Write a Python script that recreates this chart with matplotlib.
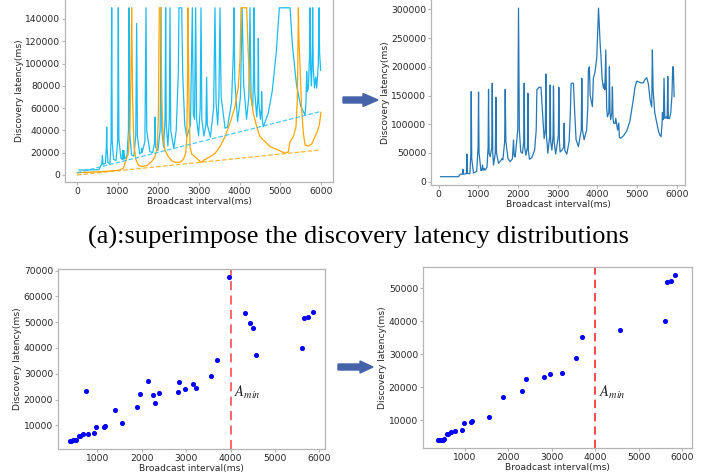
import matplotlib
matplotlib.use("Agg")
import matplotlib.pyplot as plt
from matplotlib.patches import FancyArrow

# ---- top-left: two latency curves (clipped at 150000) ----
cyan_x = [50, 300, 540, 580, 610, 625, 640, 700, 722, 730, 738, 760, 810, 838, 853, 866,
          900, 960, 1000, 1016, 1030, 1080, 1110, 1123, 1135, 1156, 1170, 1230, 1265, 1279,
          1293, 1340, 1400, 1445, 1467, 1485, 1540, 1580, 1590, 1600, 1670, 1697, 1715, 1790,
          1860, 1905, 1918, 1935, 1990, 2045, 2066, 2085, 2130, 2165, 2180, 2195, 2235, 2270,
          2287, 2305, 2380, 2440, 2490, 2508, 2574, 2600, 2650, 2700, 2790, 2836, 2860, 2890,
          2918, 2940, 2990, 3030, 3049, 3070, 3120, 3170, 3188, 3205, 3280, 3360, 3393, 3420,
          3460, 3490, 3516, 3545, 3640, 3700, 3800, 3845, 3860, 3880, 3950, 4020, 4060, 4100,
          4170, 4225, 4254, 4280, 4320, 4340, 4352, 4370, 4420, 4448, 4459, 4470, 4510, 4535,
          4541, 4555, 4582, 4700, 4800, 4900, 4975, 5238, 5300, 5400, 5500, 5607, 5630, 5648,
          5665, 5690, 5720, 5730, 5745, 5765, 5785, 5795, 5810, 5840, 5870, 5895, 5935, 5951,
          5965, 5990]
cyan_y = [4500, 4500, 4800, 8000, 9500, 17500, 9500, 10500, 25000, 43000, 25000, 11000,
          10500, 30000, 150000, 30000, 14000, 13000, 30000, 150000, 32000, 15000, 14000,
          22000, 14000, 22000, 14500, 17000, 40000, 150000, 40000, 18000, 17000, 35000,
          136000, 35000, 19000, 20000, 24000, 20000, 30000, 150000, 40000, 21000, 20000,
          28000, 52000, 25000, 22000, 40000, 150000, 40000, 25000, 50000, 150000, 45000,
          26000, 50000, 150000, 40000, 24000, 40000, 90000, 150000, 150000, 90000, 45000,
          34000, 45000, 150000, 55000, 50000, 150000, 50000, 35000, 60000, 150000, 50000,
          35000, 45000, 87700, 45000, 34000, 60000, 150000, 65000, 45000, 70000, 150000,
          70000, 42000, 43000, 65000, 110000, 150000, 85000, 48000, 70000, 150000, 80000,
          50000, 70000, 150000, 70000, 60000, 90000, 150000, 75000, 52000, 70000, 122600,
          65000, 50000, 60000, 74700, 50000, 43300, 55000, 75000, 110000, 150000, 150000,
          115000, 80000, 62000, 53800, 65000, 92700, 75000, 78000, 110000, 150000, 95000,
          80000, 110000, 150000, 95000, 78000, 88000, 78000, 100000, 150000, 110000, 94000]

orange_x = [0, 300, 600, 900, 1050, 1140, 1180, 1262, 1303, 1330, 1344, 1355, 1369, 1402,
            1451, 1508, 1590, 1713, 1836, 1918, 1975, 2000, 2012, 2024, 2066, 2075, 2082,
            2123, 2164, 2246, 2328, 2410, 2533, 2615, 2672, 2697, 2713, 2730, 2745, 2754,
            2779, 2820, 2902, 2984, 3049, 3148, 3270, 3393, 3516, 3639, 3762, 3885, 3967,
            4008, 4033, 4172, 4210, 4254, 4336, 4418, 4500, 4623, 4746, 4910, 5033, 5115,
            5197, 5238, 5320, 5385, 5418, 5435, 5443, 5460, 5484, 5525, 5566, 5607, 5689,
            5771, 5853, 5910, 5959, 6000]
orange_y = [2000, 2500, 3000, 3800, 4500, 6000, 10500, 19400, 43000, 100000, 150000, 110000,
            67300, 25400, 13500, 9000, 7500, 8400, 12000, 16400, 25400, 52300, 100000,
            150000, 150000, 100000, 67300, 31400, 22400, 16400, 12800, 11400, 11400, 13900,
            19400, 31400, 67300, 150000, 100000, 67300, 25400, 18800, 16400, 13500, 11400,
            13900, 16400, 19400, 25400, 34400, 46400, 61300, 79200, 103000, 150000, 150000,
            110000, 76300, 55300, 43300, 34400, 29900, 25400, 23000, 20900, 19400, 20900,
            29900, 34400, 43300, 67300, 120000, 150000, 120000, 97200, 58300, 37400, 26900,
            26000, 27800, 34400, 38900, 44900, 56200]

cyan_trend_x = [0, 6000]
cyan_trend_y = [2000, 57000]
orange_trend_x = [0, 6000]
orange_trend_y = [0, 22500]

# ---- top-right: superimposed distribution ----
sum_x = [50, 500, 546, 600, 614, 630, 700, 714, 725, 790, 812, 823, 835, 880, 960, 995,
         1007, 1020, 1067, 1090, 1108, 1125, 1150, 1170, 1220, 1248, 1259, 1272, 1301, 1340,
         1352, 1365, 1385, 1430, 1444, 1460, 1510, 1560, 1595, 1620, 1665, 1679, 1695, 1750,
         1805, 1860, 1888, 1905, 1930, 1995, 2014, 2035, 2070, 2114, 2145, 2157, 2170, 2200,
         2240, 2250, 2262, 2290, 2350, 2420, 2460, 2477, 2530, 2580, 2610, 2660, 2690, 2703,
         2718, 2754, 2800, 2812, 2825, 2855, 2885, 2895, 2910, 2950, 3018, 3030, 3045, 3063,
         3110, 3150, 3164, 3180, 3230, 3290, 3320, 3340, 3398, 3430, 3465, 3523, 3595, 3609,
         3625, 3667, 3730, 3760, 3775, 3800, 3820, 3876, 3900, 3940, 3985, 4030, 4070, 4090,
         4120, 4153, 4175, 4190, 4213, 4235, 4254, 4290, 4304, 4320, 4337, 4365, 4380, 4395,
         4414, 4447, 4464, 4489, 4510, 4540, 4556, 4591, 4660, 4740, 4820, 4900, 4950, 4992,
         5100, 5160, 5200, 5245, 5287, 5330, 5370, 5387, 5405, 5447, 5497, 5540, 5575, 5606,
         5630, 5640, 5665, 5681, 5700, 5731, 5760, 5775, 5790, 5820, 5850, 5880, 5900, 5915,
         5935]
sum_y = [8700, 8700, 13000, 13000, 21600, 13000, 14000, 48200, 14600, 14000, 50000, 156700,
         40000, 15000, 18000, 60000, 156000, 50000, 19200, 20000, 29000, 20000, 23000, 20000,
         25000, 60000, 160800, 50000, 43500, 60000, 171300, 50000, 29000, 50000, 146900,
         50000, 32000, 36000, 40000, 38000, 70000, 160800, 70000, 40000, 34800, 40000, 72600,
         45000, 43000, 90000, 302000, 90000, 52000, 49400, 70000, 171300, 60000, 46000,
         60000, 153900, 55000, 39000, 42000, 55000, 90000, 160000, 164300, 164300, 130000,
         75000, 90000, 187500, 80000, 49400, 80000, 168400, 70000, 55000, 80000, 166600,
         70000, 48000, 80000, 164300, 70000, 51600, 55000, 60000, 101700, 55000, 48000,
         70000, 120000, 171300, 171300, 120000, 73000, 61000, 90000, 180000, 90000, 73000,
         90000, 130000, 195000, 200000, 150000, 130600, 180000, 190000, 215000, 302000,
         241000, 220600, 180000, 162600, 170000, 160000, 229300, 130000, 113000, 120000,
         200000, 120000, 108000, 120000, 165000, 110000, 102000, 101000, 110000, 100000,
         90000, 102000, 77300, 75500, 80000, 88000, 105000, 140000, 165000, 175000, 172000,
         172000, 178000, 181000, 170000, 142000, 130000, 229300, 160000, 120000, 103000,
         88000, 81300, 78400, 100000, 120000, 108000, 180000, 110000, 113000, 110000,
         183000, 110000, 110000, 120000, 150000, 200000, 200000, 148000]

# ---- bottom: minimum latency points ----
all_x = [375, 413, 450, 488, 526, 585, 616, 675, 743, 781, 932, 977, 1142, 1171, 1406, 1548,
         1887, 1955, 2135, 2263, 2308, 2399, 2819, 2841, 2970, 3165, 3233, 3571, 3699, 3955,
         4323, 4436, 4511, 4579, 5602, 5662, 5744, 5850]
all_y = [4080, 4080, 4150, 4150, 4300, 5740, 6010, 6520, 23430, 6650, 7040, 9230, 9360, 9750,
         15960, 11050, 17120, 22270, 27030, 21880, 18790, 22390, 23040, 26920, 24060, 25870,
         24320, 28960, 35160, 67660, 53470, 49860, 47800, 37220, 39930, 51800, 52180, 53990]

kept_x = [375, 413, 450, 488, 526, 585, 616, 675, 781, 932, 977, 1142, 1171, 1548, 1887,
          2308, 2399, 2819, 2970, 3233, 3571, 3699, 4579, 5602, 5662, 5744, 5850]
kept_y = [4080, 4080, 4150, 4150, 4300, 5740, 6010, 6520, 6650, 7040, 9230, 9360, 9750,
          11050, 17120, 18790, 22390, 23040, 24060, 24320, 28960, 35160, 37220, 39930, 51800,
          52180, 53990]

a_min = 4000

W, H = 718, 476
spine_col = "#b4b4b4"
fs = 6.6


def px_axes(fig, left, top, right, bottom):
    return fig.add_axes([left / W, 1 - bottom / H, (right - left) / W, (bottom - top) / H])


def style(ax, hide_top=False):
    for s in ax.spines.values():
        s.set_color(spine_col)
        s.set_linewidth(0.9)
    if hide_top:
        ax.spines["top"].set_visible(False)
    ax.tick_params(colors=spine_col, labelcolor="#262626", labelsize=fs, length=2,
                   width=0.8, pad=1.5)
    ax.set_xlabel("Broadcast interval(ms)", fontsize=fs, color="#262626", labelpad=0.5)
    ax.set_ylabel("Discovery latency(ms)", fontsize=fs, color="#262626", labelpad=1)


fig = plt.figure(figsize=(W / 100, H / 100), dpi=100)
plt.rcParams["mathtext.fontset"] = "stix"

# top-left
ax1 = px_axes(fig, 65, 0, 333, 182)
ax1.plot(cyan_x, cyan_y, color="#1cbcf2", lw=0.9)
ax1.plot(orange_x, orange_y, color="#ffa500", lw=0.9)
ax1.plot(cyan_trend_x, cyan_trend_y, color="#1cbcf2", lw=0.9, ls="--", alpha=0.8)
ax1.plot(orange_trend_x, orange_trend_y, color="#ffa500", lw=0.9, ls="--", alpha=0.8)
ax1.set_xlim(-295, 6295)
ax1.set_ylim(-6300, 157000)
ax1.set_xticks([0, 1000, 2000, 3000, 4000, 5000, 6000])
ax1.set_yticks([0, 20000, 40000, 60000, 80000, 100000, 120000, 140000])
style(ax1, hide_top=True)

# top-right
ax2 = px_axes(fig, 431, 0, 685, 185)
ax2.plot(sum_x, sum_y, color="#2677b5", lw=0.9)
ax2.set_xlim(-191, 6209)
ax2.set_ylim(-5750, 316200)
ax2.set_xticks([0, 1000, 2000, 3000, 4000, 5000, 6000])
ax2.set_yticks([0, 50000, 100000, 150000, 200000, 250000, 300000])
style(ax2, hide_top=True)

# bottom-left
ax3 = px_axes(fig, 58, 269, 325, 449)
ax3.scatter(all_x, all_y, s=7, color="#0000ff", zorder=3)
ax3.axvline(a_min, color="#ff5a5a", ls=(0, (5, 3)), lw=1.3)
ax3.text(4080, 21000, "$A_{min}$", fontsize=10.5, color="#222222")
ax3.set_xlim(113, 6128)
ax3.set_ylim(840, 70630)
ax3.set_xticks([1000, 2000, 3000, 4000, 5000, 6000])
ax3.set_yticks([10000, 20000, 30000, 40000, 50000, 60000, 70000])
style(ax3)

# bottom-right
ax4 = px_axes(fig, 423, 267, 692, 448)
ax4.scatter(kept_x, kept_y, s=7, color="#0000ff", zorder=3)
ax4.axvline(a_min, color="#ff2a2a", ls=(0, (5, 3)), lw=1.2)
ax4.text(4080, 17000, "$A_{min}$", fontsize=10.5, color="#222222")
ax4.set_xlim(38, 6231)
ax4.set_ylim(1640, 56350)
ax4.set_xticks([1000, 2000, 3000, 4000, 5000, 6000])
ax4.set_yticks([10000, 20000, 30000, 40000, 50000])
style(ax4)

# arrows between panels
arrow_col = "#4463a8"
fig.add_artist(FancyArrow(3.43, (H - 100) / 100, 0.35, 0, width=0.06, head_width=0.13,
                          head_length=0.15, length_includes_head=True, color=arrow_col,
                          transform=fig.dpi_scale_trans))
fig.add_artist(FancyArrow(3.38, (H - 367) / 100, 0.35, 0, width=0.06, head_width=0.12,
                          head_length=0.13, length_includes_head=True, color=arrow_col,
                          transform=fig.dpi_scale_trans))

fig.text(0.5, 1 - 237 / H, "(a):superimpose the discovery latency distributions",
         ha="center", va="center", fontsize=19, family="Liberation Serif")

fig.savefig("out.png", dpi=100)
